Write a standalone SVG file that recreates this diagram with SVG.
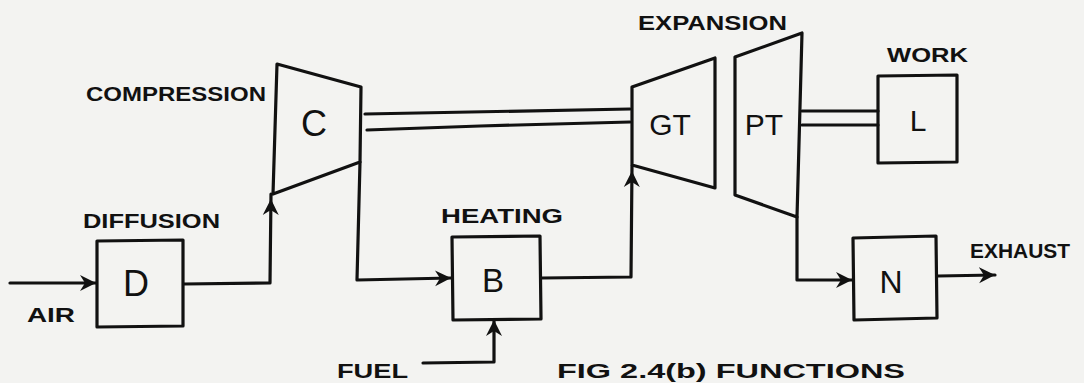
<svg xmlns="http://www.w3.org/2000/svg" width="1084" height="383" viewBox="0 0 1084 383">
<style>
.ln{fill:none;stroke:#111;stroke-width:3.2;stroke-linecap:round;stroke-linejoin:round}
.t{font-family:"Liberation Sans",Arial,sans-serif;fill:#111;font-size:21px;font-weight:bold}
.big{font-family:"Liberation Sans",Arial,sans-serif;fill:#111;text-anchor:middle}
</style>
<defs>
<marker id="arr" markerUnits="userSpaceOnUse" markerWidth="20" markerHeight="18" viewBox="0 0 20 18" refX="16" refY="9" orient="auto">
<path d="M0,1 L16,9 L0,17 L5,9 Z" fill="#111"/>
</marker>
<marker id="arrMid" markerUnits="userSpaceOnUse" markerWidth="26" markerHeight="18" viewBox="0 0 26 18" refX="21" refY="9" orient="auto">
<path d="M0,1 L16,9 L0,17 L5,9 Z" fill="#111"/>
</marker>
</defs>
<rect width="1084" height="383" fill="#f3f3f1"/>

<g id="connectors">
<path class="ln" d="M10,283 L96,283" marker-end="url(#arr)"/>
<path class="ln" d="M184,284 L270,283 L271,194" marker-end="url(#arrMid)"/>
<path class="ln" d="M360,162 L357,280 L451,278" marker-end="url(#arr)"/>
<path class="ln" d="M542,278 L631,277 L632,166" marker-end="url(#arrMid)"/>
<path class="ln" d="M423,363 L494,362 L494,320" marker-end="url(#arr)"/>
<path class="ln" d="M797,217 L797,280 L852,280" marker-end="url(#arr)"/>
<path class="ln" d="M938,276 L995,275" marker-end="url(#arr)"/>
<path class="ln" d="M365,114 L470,112 L630,109"/>
<path class="ln" d="M367,130 L480,126 L630,122"/>
<path class="ln" d="M802,111 L878,111"/>
<path class="ln" d="M802,125 L878,125"/>
</g>

<g id="node-D">
<path class="ln" d="M97,241 L183,240 L183,326 L97,327 Z"/>
<text class="big" x="136" y="296" font-size="36">D</text>
<text class="t" x="83" y="228" textLength="137" lengthAdjust="spacingAndGlyphs">DIFFUSION</text>
</g>
<g id="node-C">
<path class="ln" d="M277,64 L361,87 L360,162 L273,194 Z"/>
<text class="big" x="314" y="136" font-size="36">C</text>
<text class="t" x="86" y="101" textLength="180" lengthAdjust="spacingAndGlyphs">COMPRESSION</text>
</g>
<g id="node-B">
<path class="ln" d="M452,237 L540,236 L541,319 L453,320 Z"/>
<text class="big" x="493" y="292" font-size="33">B</text>
<text class="t" x="441" y="223" textLength="122" lengthAdjust="spacingAndGlyphs">HEATING</text>
</g>
<g id="node-GT">
<path class="ln" d="M632,87 L715,58 L715,188 L632,165 Z"/>
<text class="big" x="670" y="135" font-size="30">GT</text>
</g>
<g id="node-PT">
<path class="ln" d="M735,57 L802,33 L797,217 L735,195 Z"/>
<text class="big" x="764" y="135" font-size="30">PT</text>
<text class="t" x="638" y="30" textLength="149" lengthAdjust="spacingAndGlyphs">EXPANSION</text>
</g>
<g id="node-L">
<path class="ln" d="M878,76 L957,75 L957,162 L878,163 Z"/>
<text class="big" x="918" y="131" font-size="30">L</text>
<text class="t" x="887" y="62" textLength="81" lengthAdjust="spacingAndGlyphs">WORK</text>
</g>
<g id="node-N">
<path class="ln" d="M853,238 L936,236 L937,318 L854,320 Z"/>
<text class="big" x="891" y="293" font-size="32">N</text>
</g>

<g id="labels">
<text class="t" x="27" y="322" textLength="48" lengthAdjust="spacingAndGlyphs">AIR</text>
<text class="t" x="337" y="378" textLength="71" lengthAdjust="spacingAndGlyphs">FUEL</text>
<text class="t" x="970" y="258" textLength="100" lengthAdjust="spacingAndGlyphs">EXHAUST</text>
<text class="t" x="557" y="378" textLength="348" lengthAdjust="spacingAndGlyphs">FIG 2.4(b)  FUNCTIONS</text>
</g>
</svg>
